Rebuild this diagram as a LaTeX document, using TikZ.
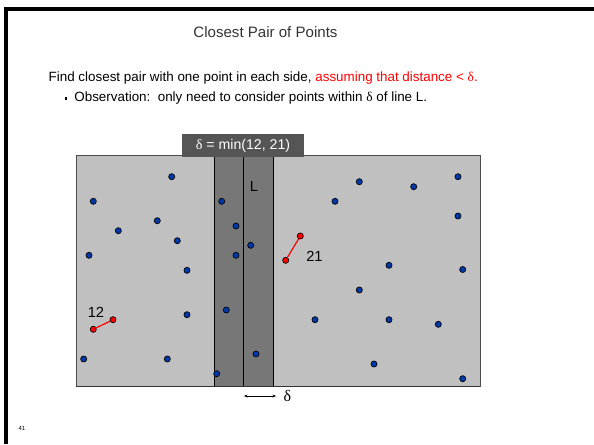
\documentclass[tikz,border=0pt]{standalone}
\usepackage{fontspec}
\setmainfont{Liberation Sans}
\newfontfamily\grk{Liberation Serif}
\usetikzlibrary{arrows.meta}
\definecolor{lightbg}{HTML}{C0C0C0}
\definecolor{stripbg}{HTML}{777777}
\definecolor{labelbg}{HTML}{555555}
\definecolor{ptblue}{HTML}{0038A8}
\newcommand\dlt{{\grk δ}}
\tikzset{pt/.style={circle,draw=black,line width=0.5pt,fill=ptblue,inner sep=0pt,minimum size=4.6pt},
  redpt/.style={pt,fill=red}}
\begin{document}
\begin{tikzpicture}[x=0.75pt,y=-0.75pt]
\useasboundingbox(0,0)rectangle(594,444);
\draw[line width=2.4pt](6,444)--(6,9)--(594,9);
\node[text=black!80,font=\fontsize{11.3}{13}\selectfont](title)at(265.5,32){Closest Pair of Points};
\node[anchor=west,font=\fontsize{10.05}{12}\selectfont](find)at(44,78){Find closest pair with one point in each side, \textcolor{red}{assuming that distance < \dlt.}};
\node[anchor=west,font=\fontsize{10.05}{12}\selectfont](obs)at(60,98){\raisebox{0.25ex}{\rule{1.7pt}{1.7pt}}\ \ Observation:\ \ only need to consider points within \dlt\ of line L.};
\fill[lightbg](76,155)rectangle(480,386);\draw[black!70,line width=0.6pt](76,155)rectangle(480,386);
\fill[stripbg](214,155)rectangle(273.3,386);
\foreach\x in{214,243.3,273.3}{\draw[line width=0.6pt](\x,155)--(\x,386);}
\draw[black!80,line width=0.6pt](76,386)--(480,386);
\node[fill=labelbg,text=white,minimum width=91.5pt,minimum height=17pt,inner sep=0pt,font=\fontsize{10.6}{12}\selectfont](delta)at(243,145.5){\dlt\ = min(12, 21)};
\node[font=\fontsize{11}{12}\selectfont](L)at(254,186){L};
\foreach\x/\y [count=\i] in{171.7/176.7,93.3/201.3,157.3/220.7,118.3/230.7,177.3/240.7,89/255.3,221.7/201.3,236/226,236/255.3,250.7/245.3,
  187/270.3,187/314.7,226.3/310,83.7/359,167.3/359,256/354,216.7/373.7,
  359.3/181.7,413.7/186.7,458/176.7,335/201.3,458/216,389/265.3,462.7/269.5,359.3/290,315/319.7,389/319.7,438.3/324.3,374/364,462.7/378.7}
  {\node[pt](p\i)at(\x,\y){};}
\node[redpt](a1)at(93.3,329.3){};\node[redpt](a2)at(113,319.7){};\draw[red,line width=0.9pt](a1)--(a2);
\node[redpt](b1)at(285.7,260.3){};\node[redpt](b2)at(300.3,236){};\draw[red,line width=0.9pt](b1)--(b2);
\node[font=\fontsize{11}{12}\selectfont](d12)at(96,312.5){12};
\node[font=\fontsize{11}{12}\selectfont](d21)at(314.5,256){21};
\coordinate(arL)at(244,396);\coordinate(arR)at(276,396);
\draw[{Stealth[length=2.6pt,width=2.2pt]}-{Stealth[length=2.6pt,width=2.2pt]},line width=0.5pt](arL)--(arR);
\node[font=\fontsize{12}{13}\selectfont](dl)at(287.5,396){\dlt};
\node[font=\fontsize{4.5}{5}\selectfont](pg)at(22,428){41};
\end{tikzpicture}
\end{document}
